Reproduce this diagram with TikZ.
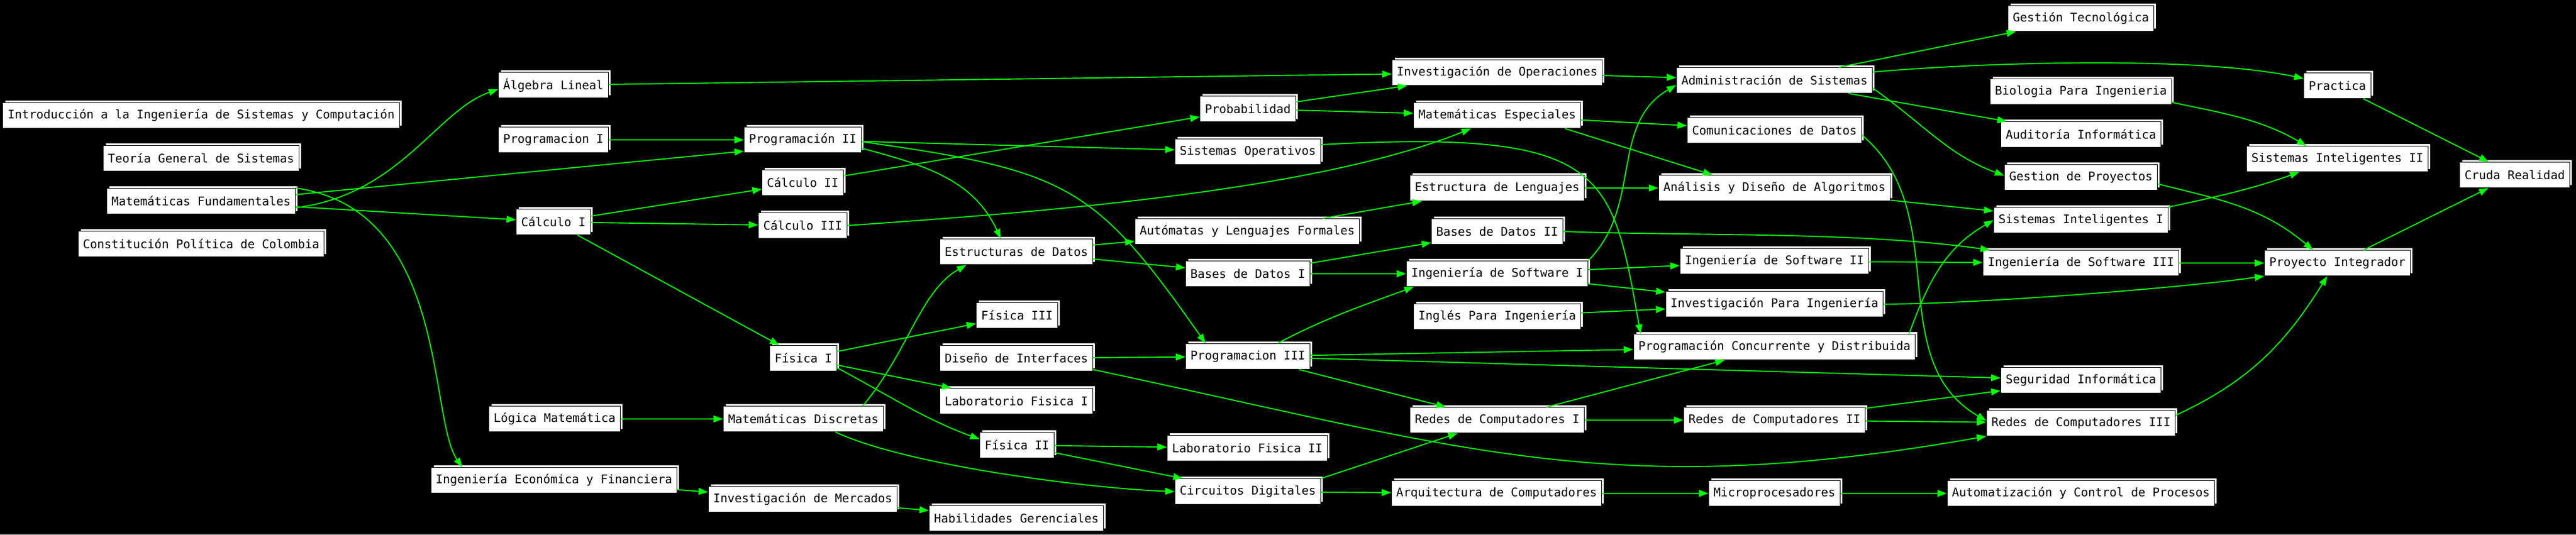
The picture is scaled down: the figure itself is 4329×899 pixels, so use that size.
\documentclass[tikz,border=0pt]{standalone}
\usepackage{fontspec}
\newfontfamily\coursefont{DejaVu Sans Mono}
\usetikzlibrary{arrows.meta}
\usetikzlibrary{shadows}
\definecolor{prereqgreen}{RGB}{0,255,0}

\begin{document}
\begin{tikzpicture}[x=0.4pt, y=-0.4pt]

\def\BoxHeight{17.2pt}
\def\Bevel{1.6pt}

% Styles
\tikzstyle{course} =
	[draw=black, fill=white, line width=0.4pt, text=black,
	 font=\coursefont\fontsize{8}{9.6}\selectfont,
	 minimum height=\BoxHeight, inner xsep=3.2pt, inner ysep=0pt,
	 copy shadow={shadow xshift=\Bevel, shadow yshift=\Bevel,
	              draw=black, fill=white, line width=0.4pt}]

\tikzstyle{prereq} =
	[->, >={Triangle[length=6.4pt, width=4.6pt]}, color=prereqgreen, line width=0.75pt]

% Background
\useasboundingbox (0, 0) rectangle (4329, 899);
\fill[black] (0, 0) rectangle (4329, 899);
\draw[gray, line width=0.8pt] (0, 898) -- (4329, 898);

% Courses
\node (Introduccion) at (338, 194) [course] {Introducción a la Ingeniería de Sistemas y Computación};
\node (TeoriaGeneral) at (338, 266) [course] {Teoría General de Sistemas};
\node (MatFundamentales) at (338, 338) [course] {Matemáticas Fundamentales};
\node (Constitucion) at (338, 410) [course] {Constitución Política de Colombia};

\node (AlgebraLineal) at (930, 143) [course] {Álgebra Lineal};
\node (ProgramacionI) at (930, 235) [course] {Programacion I};
\node (CalculoI) at (930, 373) [course] {Cálculo I};
\node (LogicaMatematica) at (932, 704) [course] {Lógica Matemática};
\node (IngEconomica) at (931, 807) [course] {Ingeniería Económica y Financiera};

\node (ProgramacionII) at (1349, 235) [course] {Programación II};
\node (CalculoII) at (1349, 307) [course] {Cálculo II};
\node (CalculoIII) at (1349, 379) [course] {Cálculo III};
\node (FisicaI) at (1350, 602) [course] {Física I};
\node (MatDiscretas) at (1350, 704) [course] {Matemáticas Discretas};
\node (InvMercados) at (1349, 839) [course] {Investigación de Mercados};

\node (EstructurasDatos) at (1708, 423) [course] {Estructuras de Datos};
\node (FisicaIII) at (1709, 530) [course] {Física III};
\node (DisenoInterfaces) at (1708, 602) [course] {Diseño de Interfaces};
\node (LabFisicaI) at (1708, 674) [course] {Laboratorio Fisica I};
\node (FisicaII) at (1709, 748) [course] {Física II};
\node (HabGerenciales) at (1708, 871) [course] {Habilidades Gerenciales};

\node (Probabilidad) at (2097, 183) [course] {Probabilidad};
\node (SistemasOperativos) at (2097, 255) [course] {Sistemas Operativos};
\node (Automatas) at (2096, 389) [course] {Autómatas y Lenguajes Formales};
\node (BasesDatosI) at (2097, 460) [course] {Bases de Datos I};
\node (ProgramacionIII) at (2097, 599) [course] {Programacion III};
\node (LabFisicaII) at (2096, 753) [course] {Laboratorio Fisica II};
\node (CircuitosDigitales) at (2097, 826) [course] {Circuitos Digitales};

\node (InvOperaciones) at (2516, 122) [course] {Investigación de Operaciones};
\node (MatEspeciales) at (2516, 194) [course] {Matemáticas Especiales};
\node (EstrLenguajes) at (2516, 316) [course] {Estructura de Lenguajes};
\node (BasesDatosII) at (2516, 389) [course] {Bases de Datos II};
\node (IngSoftwareI) at (2516, 460) [course] {Ingeniería de Software I};
\node (InglesIngenieria) at (2516, 532) [course] {Inglés Para Ingeniería};
\node (RedesI) at (2516, 706) [course] {Redes de Computadores I};
\node (Arquitectura) at (2515, 829) [course] {Arquitectura de Computadores};

\node (AdminSistemas) at (2982, 135) [course] {Administración de Sistemas};
\node (Comunicaciones) at (2982, 219) [course] {Comunicaciones de Datos};
\node (Algoritmos) at (2982, 316) [course] {Análisis y Diseño de Algoritmos};
\node (IngSoftwareII) at (2982, 439) [course] {Ingeniería de Software II};
\node (InvIngenieria) at (2982, 511) [course] {Investigación Para Ingeniería};
\node (ProgConcurrente) at (2982, 583) [course] {Programación Concurrente y Distribuida};
\node (RedesII) at (2982, 706) [course] {Redes de Computadores II};
\node (Microprocesadores) at (2982, 829) [course] {Microprocesadores};

\node (GestionTecnologica) at (3497, 31) [course] {Gestión Tecnológica};
\node (Biologia) at (3497, 154) [course] {Biologia Para Ingenieria};
\node (Auditoria) at (3497, 226) [course] {Auditoría Informática};
\node (GestionProyectos) at (3497, 298) [course] {Gestion de Proyectos};
\node (SistemasIntI) at (3497, 370) [course] {Sistemas Inteligentes I};
\node (IngSoftwareIII) at (3497, 442) [course] {Ingeniería de Software III};
\node (Seguridad) at (3497, 639) [course] {Seguridad Informática};
\node (RedesIII) at (3497, 711) [course] {Redes de Computadores III};
\node (Automatizacion) at (3497, 829) [course] {Automatización y Control de Procesos};

\node (Practica) at (3928, 144) [course] {Practica};
\node (SistemasIntII) at (3928, 267) [course] {Sistemas Inteligentes II};
\node (ProyIntegrador) at (3928, 442) [course] {Proyecto Integrador};

\node (CrudaRealidad) at (4226, 294) [course] {Cruda Realidad};

% Edges

\path[prereq]
	([yshift=-4.4pt]MatFundamentales.east) edge[out=7, in=199, out distance=70.4pt, in distance=43.6pt]
		([yshift=-2.8pt]AlgebraLineal.west)
	([yshift=4.4pt]MatFundamentales.east) edge ([yshift=-7.6pt]ProgramacionII.west)
	(MatFundamentales) edge (CalculoI)
	(MatFundamentales.north east) edge[out=-8, in=125, out distance=104pt, in distance=40pt]
		([xshift=-61.6pt]IngEconomica.north);

\path[prereq]
	(ProgramacionI) edge (ProgramacionII)
	(AlgebraLineal) edge (InvOperaciones)
	(CalculoI) edge (CalculoII)
	(CalculoI) edge (CalculoIII)
	(CalculoI) edge (FisicaI)
	(LogicaMatematica) edge (MatDiscretas)
	(IngEconomica) edge (InvMercados)
	(InvMercados) edge (HabGerenciales);

\path[prereq]
	(ProgramacionII) edge (SistemasOperativos)
	([yshift=-5.6pt]ProgramacionII.east) edge[out=-15, in=115, distance=44pt]
		([xshift=-10.4pt]EstructurasDatos.north)
	([yshift=-1.2pt]ProgramacionII.east) edge[out=-8, in=125, out distance=140pt, in distance=130pt]
		([xshift=-28.4pt]ProgramacionIII.north)
	(CalculoII) edge (Probabilidad)
	(CalculoIII.east) edge[out=4, in=-158, distance=116pt] ([xshift=-17.6pt]MatEspeciales.south)
	(FisicaI) edge (FisicaIII)
	(FisicaI) edge (LabFisicaI)
	([yshift=-6.4pt]FisicaI.east) edge[out=-28, in=160, distance=40pt] ([yshift=4pt]FisicaII.west)
	([xshift=40pt]MatDiscretas.north) edge[out=50, in=-150, out distance=48pt, in distance=36pt]
		([xshift=-33.6pt]EstructurasDatos.south)
	([xshift=21.6pt]MatDiscretas.south) edge[out=-25, in=178, distance=54.4pt] (CircuitosDigitales.west);

\path[prereq]
	(EstructurasDatos) edge (Automatas)
	(EstructurasDatos) edge (BasesDatosI)
	(FisicaII) edge (LabFisicaII)
	(FisicaII) edge (CircuitosDigitales)
	(DisenoInterfaces) edge (ProgramacionIII)
	([yshift=-7.6pt]DisenoInterfaces.east) edge[out=-12, in=190, distance=256pt] (RedesIII.south west);

\path[prereq]
	(Probabilidad) edge (InvOperaciones)
	(Probabilidad) edge (MatEspeciales)
	([yshift=4.8pt]SistemasOperativos.east) edge[out=3, in=100, out distance=192pt, in distance=112pt]
		([xshift=-90pt]ProgConcurrente.north)
	(Automatas) edge (EstrLenguajes)
	(BasesDatosI) edge (BasesDatosII)
	(BasesDatosI) edge (IngSoftwareI)
	([xshift=20pt]ProgramacionIII.north) edge[out=28, in=-160, distance=36pt]
		([xshift=-56pt]IngSoftwareI.south)
	(ProgramacionIII) edge (ProgConcurrente)
	(ProgramacionIII) edge (Seguridad)
	(ProgramacionIII) edge (RedesI)
	(CircuitosDigitales.north east) edge (RedesI)
	(CircuitosDigitales) edge (Arquitectura);

\path[prereq]
	(InvOperaciones) edge (AdminSistemas)
	(MatEspeciales) edge (Comunicaciones)
	([xshift=45.6pt]MatEspeciales.south) edge ([xshift=-41.6pt]Algoritmos.north)
	(EstrLenguajes) edge (Algoritmos)
	(BasesDatosII.east) edge[out=-2, in=172, distance=89.6pt] ([xshift=-61.2pt]IngSoftwareIII.north)
	(IngSoftwareI) edge (IngSoftwareII)
	(IngSoftwareI) edge (InvIngenieria)
	(IngSoftwareI.north east) edge[out=45, in=-150, distance=52pt] ([yshift=-3.2pt]AdminSistemas.west)
	(InglesIngenieria) edge (InvIngenieria)
	(RedesI) edge (RedesII)
	(RedesI) edge (ProgConcurrente)
	(Arquitectura) edge (Microprocesadores);

\path[prereq]
	(AdminSistemas) edge (GestionTecnologica)
	([yshift=5.6pt]AdminSistemas.east) edge[out=5, in=168, distance=74pt] ([yshift=4.8pt]Practica.west)
	(AdminSistemas) edge (Auditoria)
	([yshift=-5.2pt]AdminSistemas.east) edge[out=-35, in=160, distance=40pt]
		([yshift=1.2pt]GestionProyectos.west)
	([yshift=-3.2pt]Comunicaciones.east) edge[out=-40, in=150, distance=81.6pt]
		([yshift=1.6pt]RedesIII.west)
	(Algoritmos) edge (SistemasIntI)
	(IngSoftwareII) edge (IngSoftwareIII)
	(InvIngenieria.east) edge[out=0, in=-172, distance=60pt] (ProyIntegrador.south west)
	([xshift=-4.4pt]ProgConcurrente.north east) edge[out=70, in=-150, distance=37.6pt] (SistemasIntI.west)
	(RedesII) edge (Seguridad)
	(RedesII) edge (RedesIII)
	(Microprocesadores) edge (Automatizacion);

\path[prereq]
	([yshift=-7.2pt]Biologia.east) edge[out=-12, in=150, distance=36pt]
		([xshift=-20.8pt]SistemasIntII.north)
	(SistemasIntI.north east) edge[out=12, in=-160, distance=32pt] ([xshift=-25.6pt]SistemasIntII.south)
	([yshift=-4.4pt]GestionProyectos.east) edge[out=-14, in=140, distance=44.4pt]
		([xshift=-16.4pt]ProyIntegrador.north)
	(IngSoftwareIII) edge (ProyIntegrador)
	([yshift=5.2pt]RedesIII.east) edge[out=25, in=-122, distance=54.4pt] ([xshift=-6.8pt]ProyIntegrador.south)
	(Practica) edge (CrudaRealidad)
	(ProyIntegrador) edge (CrudaRealidad);

\end{tikzpicture}
\end{document}
